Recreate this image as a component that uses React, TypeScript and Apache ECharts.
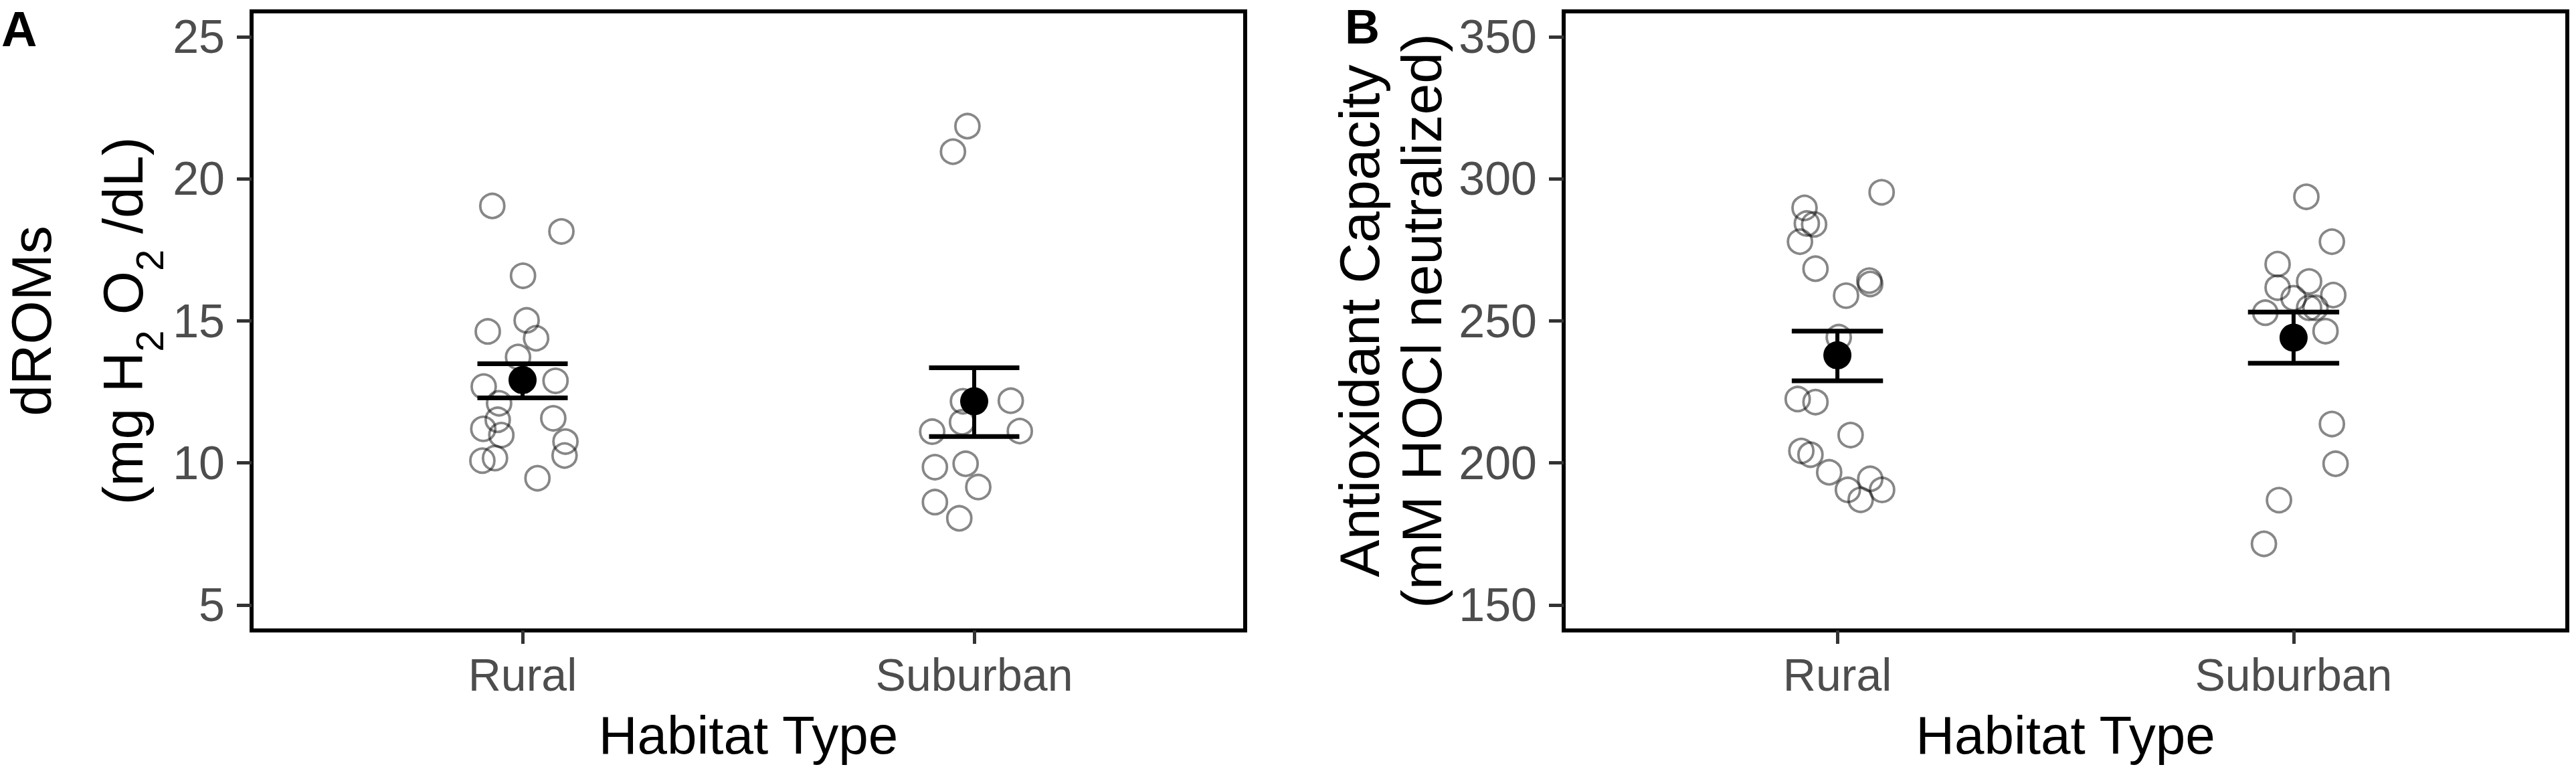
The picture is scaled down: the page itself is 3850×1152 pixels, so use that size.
import React, { useEffect, useRef } from "react";
import * as echarts from "echarts";

// ---------- data ----------
const CATEGORIES = ["Rural", "Suburban"];
const Y_TICKS_A = [5, 10, 15, 20, 25];
const Y_TICKS_B = [150, 200, 250, 300, 350];

// Panel A: dROMs (x = jittered category position, y = value)
const dromsRuralX = [0.933, 1.086, 1.001, 1.009, 0.923, 1.03, 0.99, 0.914, 1.073, 0.948, 0.945, 0.913, 0.953, 1.068, 1.095, 1.093, 0.911, 0.939, 1.033];
const dromsRuralY = [19.05, 18.15, 16.59, 15.02, 14.63, 14.39, 13.73, 12.69, 12.89, 12.1, 11.52, 11.2, 10.98, 11.57, 10.75, 10.26, 10.08, 10.17, 9.46];
const dromsSubX = [1.985, 1.953, 1.975, 2.081, 1.973, 1.907, 2.101, 1.913, 1.981, 2.009, 1.913, 1.967];
const dromsSubY = [21.86, 20.96, 12.17, 12.19, 11.43, 11.1, 11.12, 9.85, 9.97, 9.15, 8.62, 8.05];
const dromsMean = [12.92, 12.17];
const dromsLower = [12.29, 10.93];
const dromsUpper = [13.49, 13.35];

// Panel B: Antioxidant capacity
const antiRuralX = [1.097, 0.928, 0.933, 0.949, 0.918, 0.952, 1.07, 1.072, 1.019, 1.003, 0.913, 0.952, 1.029, 0.921, 0.941, 0.982, 1.023, 1.072, 1.098, 1.051];
const antiRuralY = [295.3, 289.8, 284.3, 284.0, 277.9, 268.4, 264.2, 263.0, 258.9, 244.3, 222.5, 221.4, 209.8, 204.2, 202.9, 196.7, 190.5, 194.4, 190.5, 187.0];
const antiSubX = [2.028, 2.084, 1.965, 2.034, 1.965, 2.087, 2.0, 2.034, 2.048, 1.938, 2.07, 2.084, 2.092, 1.968, 1.935];
const antiSubY = [293.7, 277.9, 270.0, 263.9, 261.7, 259.1, 258.0, 254.6, 254.6, 252.9, 246.4, 213.7, 199.7, 186.9, 171.5];
const antiMean = [237.9, 244.1];
const antiLower = [228.9, 235.1];
const antiUpper = [246.4, 253.1];

// ---------- styling constants ----------
const FONT = "'Liberation Sans', Arial, Helvetica, sans-serif";
const CAP_HALF = 0.1;
const TICK_COLOR = "#333333";
const LABEL_COLOR = "#4d4d4d";

function pairs(xs: number[], ys: number[]) {
  return xs.map((x, i) => [x, ys[i]]);
}

function errorData(lower: number[], upper: number[]) {
  return lower.map((l, i) => [i + 1, l, upper[i]]);
}

function meanData(mean: number[]) {
  return mean.map((m, i) => [i + 1, m]);
}

const renderError = (params: any, api: any) => {
  const x = api.value(0);
  const lo = api.value(1);
  const hi = api.value(2);
  const pLo = api.coord([x, lo]);
  const pHi = api.coord([x, hi]);
  const lLo = api.coord([x - CAP_HALF, lo]);
  const rLo = api.coord([x + CAP_HALF, lo]);
  const lHi = api.coord([x - CAP_HALF, hi]);
  const rHi = api.coord([x + CAP_HALF, hi]);
  const st = { stroke: "#000", lineWidth: 7 };
  return {
    type: "group",
    children: [
      { type: "line", shape: { x1: pLo[0], y1: pLo[1], x2: pHi[0], y2: pHi[1] }, style: { stroke: "#000", lineWidth: 6 } },
      { type: "line", shape: { x1: lLo[0], y1: lLo[1], x2: rLo[0], y2: rLo[1] }, style: st },
      { type: "line", shape: { x1: lHi[0], y1: lHi[1], x2: rHi[0], y2: rHi[1] }, style: st },
    ],
  };
};

function xAxisFor(gridIndex: number) {
  return {
    type: "value",
    gridIndex,
    min: 0.4,
    max: 2.6,
    axisLine: { show: false },
    splitLine: { show: false },
    axisTick: {
      show: true,
      customValues: [1, 2],
      length: 20,
      lineStyle: { color: TICK_COLOR, width: 5 },
    },
    axisLabel: {
      show: true,
      customValues: [1, 2],
      formatter: (v: number) => CATEGORIES[Math.round(v) - 1] ?? "",
      fontSize: 68,
      color: LABEL_COLOR,
      fontFamily: FONT,
      margin: 32,
    },
    name: "Habitat Type",
    nameLocation: "middle",
    nameGap: 116,
    nameTextStyle: { fontSize: 80, color: "#000", fontFamily: FONT },
  };
}

export default function App() {
  const ref = useRef<HTMLDivElement>(null);

  useEffect(() => {
    if (!ref.current) return;
    const chart = echarts.init(ref.current, undefined, { renderer: "svg" });

    const pointStyle = {
      color: "rgba(0,0,0,0)",
      borderColor: "rgba(0,0,0,0.47)",
      borderWidth: 3.8,
      opacity: 1,
    };

    const option: any = {
      animation: false,
      backgroundColor: "#ffffff",
      textStyle: { fontFamily: FONT },
      grid: [
        { left: 376, top: 17, width: 1485, height: 925, show: true, borderColor: "#000", borderWidth: 6, backgroundColor: "#fff", containLabel: false },
        { left: 2337, top: 17, width: 1500, height: 925, show: true, borderColor: "#000", borderWidth: 6, backgroundColor: "#fff", containLabel: false },
      ],
      xAxis: [xAxisFor(0), xAxisFor(1)],
      yAxis: [
        {
          type: "value",
          gridIndex: 0,
          min: 4.1,
          max: 25.9,
          axisLine: { show: false },
          splitLine: { show: false },
          axisTick: { show: true, customValues: Y_TICKS_A, length: 22, lineStyle: { color: TICK_COLOR, width: 5 } },
          axisLabel: { show: true, customValues: Y_TICKS_A, fontSize: 70, color: LABEL_COLOR, fontFamily: FONT, margin: 40 },
          name: "{t|dROMs}\n{t|(mg H}{s|2}{t| O}{s|2}{t| /dL)}",
          nameLocation: "middle",
          nameRotate: 90,
          nameGap: 124,
          nameTextStyle: {
            color: "#000",
            fontFamily: FONT,
            rich: {
              t: { fontSize: 84, lineHeight: 137, color: "#000", fontFamily: FONT },
              s: { fontSize: 58, lineHeight: 95, verticalAlign: "bottom", color: "#000", fontFamily: FONT },
            },
          },
        },
        {
          type: "value",
          gridIndex: 1,
          min: 141,
          max: 359,
          axisLine: { show: false },
          splitLine: { show: false },
          axisTick: { show: true, customValues: Y_TICKS_B, length: 22, lineStyle: { color: TICK_COLOR, width: 5 } },
          axisLabel: { show: true, customValues: Y_TICKS_B, fontSize: 70, color: LABEL_COLOR, fontFamily: FONT, margin: 40 },
          name: "Antioxidant Capacity\n(mM HOCl neutralized)",
          nameLocation: "middle",
          nameRotate: 90,
          nameGap: 166,
          nameTextStyle: { fontSize: 84, lineHeight: 93, color: "#000", fontFamily: FONT },
        },
      ],
      graphic: [
        { type: "text", left: 2, top: 6, style: { text: "A", font: `bold 74px ${FONT}`, fill: "#000" } },
        { type: "text", left: 2010, top: 4, style: { text: "B", font: `bold 72px ${FONT}`, fill: "#000" } },
      ],
      series: [
        { name: "dROMs Rural", type: "scatter", xAxisIndex: 0, yAxisIndex: 0, symbol: "circle", symbolSize: 36, itemStyle: pointStyle, data: pairs(dromsRuralX, dromsRuralY), z: 2 },
        { name: "dROMs Suburban", type: "scatter", xAxisIndex: 0, yAxisIndex: 0, symbol: "circle", symbolSize: 36, itemStyle: pointStyle, data: pairs(dromsSubX, dromsSubY), z: 2 },
        { name: "dROMs SE", type: "custom", xAxisIndex: 0, yAxisIndex: 0, renderItem: renderError, data: errorData(dromsLower, dromsUpper), z: 3 },
        { name: "dROMs mean", type: "scatter", xAxisIndex: 0, yAxisIndex: 0, symbol: "circle", symbolSize: 42, itemStyle: { color: "#000", opacity: 1 }, data: meanData(dromsMean), z: 4 },

        { name: "AC Rural", type: "scatter", xAxisIndex: 1, yAxisIndex: 1, symbol: "circle", symbolSize: 36, itemStyle: pointStyle, data: pairs(antiRuralX, antiRuralY), z: 2 },
        { name: "AC Suburban", type: "scatter", xAxisIndex: 1, yAxisIndex: 1, symbol: "circle", symbolSize: 36, itemStyle: pointStyle, data: pairs(antiSubX, antiSubY), z: 2 },
        { name: "AC SE", type: "custom", xAxisIndex: 1, yAxisIndex: 1, renderItem: renderError, data: errorData(antiLower, antiUpper), z: 3 },
        { name: "AC mean", type: "scatter", xAxisIndex: 1, yAxisIndex: 1, symbol: "circle", symbolSize: 42, itemStyle: { color: "#000", opacity: 1 }, data: meanData(antiMean), z: 4 },
      ],
    };

    chart.setOption(option);
    return () => chart.dispose();
  }, []);

  return (
    <div
      ref={ref}
      style={{ position: "absolute", left: 0, top: 0, width: 3850, height: 1152, background: "#fff" }}
    />
  );
}
